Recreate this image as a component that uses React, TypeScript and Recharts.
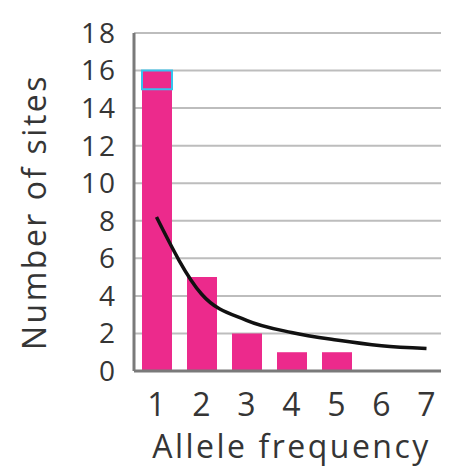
import React from 'react';
import { ComposedChart, Bar, Line, XAxis, YAxis, CartesianGrid, Label } from 'recharts';

const frequencies = ['1', '2', '3', '4', '5', '6', '7'];
const siteCounts = [16, 5, 2, 1, 1, 0, 0];
const highlighted = [1, 0, 0, 0, 0, 0, 0];
const expected = [8.2, 4.1, 2.7, 2.05, 1.65, 1.35, 1.2];
const yTicks = [0, 2, 4, 6, 8, 10, 12, 14, 16, 18];

const data = frequencies.map((f, i) => ({
  name: f,
  base: siteCounts[i] - highlighted[i],
  top: highlighted[i],
  expected: expected[i],
}));

const FONT = '"Open Sans", sans-serif';
const PINK = '#ec2a8c';
const TEXT = '#353535';

export default function App() {
  return (
    <ComposedChart
      width={441}
      height={466}
      data={data}
      margin={{ top: 25, right: 0, bottom: 0, left: 0 }}
      barSize={30}
    >
      <CartesianGrid vertical={false} stroke="#bdbdbd" strokeWidth={2} />
      <XAxis
        dataKey="name"
        height={103}
        axisLine={{ stroke: '#7a7a7a', strokeWidth: 3 }}
        tickLine={false}
        tickSize={0}
        tickMargin={22}
        tick={{ fill: TEXT, fontSize: 32, fontFamily: FONT }}
      >
        <Label
          value="Allele frequency"
          position="insideBottom"
          offset={16}
          style={{ fill: TEXT, fontSize: 32, fontFamily: FONT, letterSpacing: 2.5 }}
        />
      </XAxis>
      <YAxis
        width={126}
        domain={[0, 18]}
        ticks={yTicks}
        interval={0}
        axisLine={{ stroke: '#7a7a7a', strokeWidth: 3 }}
        tickLine={false}
        tickSize={0}
        tickMargin={17}
        tick={{ fill: TEXT, fontSize: 28, fontFamily: FONT, letterSpacing: 2 }}
      >
        <Label
          content={({ viewBox }: any) => {
            const cx = viewBox.x + 38;
            const cy = viewBox.y + viewBox.height / 2 + 10;
            return (
              <text
                x={cx}
                y={cy}
                transform={`rotate(-90 ${cx} ${cy})`}
                textAnchor="middle"
                fill={TEXT}
                fontSize={32}
                fontFamily={FONT}
                letterSpacing={2.5}
              >
                Number of sites
              </text>
            );
          }}
        />
      </YAxis>
      <Bar dataKey="base" stackId="a" fill={PINK} isAnimationActive={false} />
      <Bar dataKey="top" stackId="a" fill={PINK} stroke="#35c3ee" strokeWidth={2} isAnimationActive={false} />
      <Line
        type="monotone"
        dataKey="expected"
        stroke="#111"
        strokeWidth={3.5}
        dot={false}
        isAnimationActive={false}
      />
    </ComposedChart>
  );
}
